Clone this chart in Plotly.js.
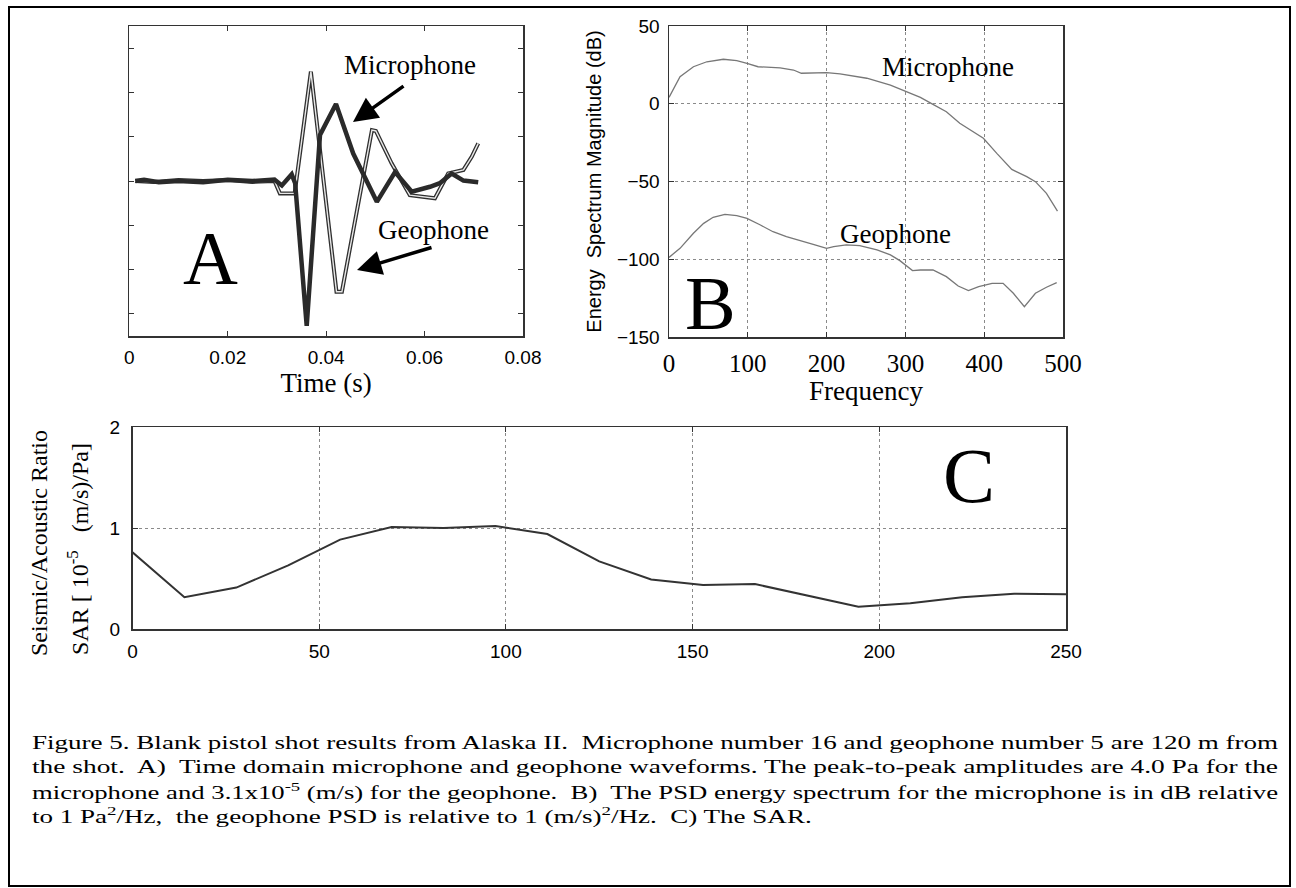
<!DOCTYPE html>
<html><head><meta charset="utf-8">
<script src="https://cdn.plot.ly/plotly-3.0.1.min.js"></script>
<style>html,body{margin:0;padding:0;background:#fff;} #chart{width:1296px;height:888px;}</style>
</head><body><div id="chart"></div>
<script>
// ---------- Panel A: time-domain waveforms ----------
const micTime = [0.0012, 0.003, 0.006, 0.010, 0.015, 0.020, 0.025, 0.0295, 0.031, 0.033, 0.0337, 0.03605, 0.03875, 0.0420, 0.0455, 0.0503, 0.0540, 0.0574, 0.0611, 0.0631, 0.0655, 0.0679, 0.0709];
const micAmp  = [0.0, 0.03, -0.03, 0.0, -0.03, 0.03, 0.0, 0.03, -0.1, 0.15, -0.05, -3.27, 1.04, 1.74, 0.62, -0.47, 0.2, -0.24, -0.13, -0.05, 0.17, 0.01, -0.03];
const geoTime = [0.0012, 0.005, 0.010, 0.015, 0.020, 0.025, 0.0295, 0.0306, 0.0336, 0.0369, 0.0421, 0.0432, 0.0493, 0.0501, 0.0533, 0.0570, 0.0621, 0.0648, 0.0679, 0.0696, 0.0709];
const geoAmp  = [0.0, -0.02, 0.02, 0.0, 0.02, -0.02, 0.0, -0.28, -0.28, 2.47, -2.5, -2.5, 1.15, 1.13, 0.4, -0.32, -0.39, 0.17, 0.25, 0.55, 0.85];

// ---------- Panel B: energy spectra (dB) ----------
const micFreq = [0, 14, 31, 48, 69, 86, 99, 113, 141, 158, 168, 200, 217, 251, 281, 300, 319, 335, 352, 369, 386, 399, 416, 435, 454, 465, 479, 493];
const micSpec = [4.1, 17.4, 23.8, 27, 28.6, 27.7, 26, 23.8, 23.1, 21.7, 19.6, 20, 19.2, 16.4, 12, 8.2, 4.1, -0.4, -5.1, -12.6, -18, -22.2, -31.9, -42.2, -46.9, -50.1, -57.6, -69];
const geoFreq = [0, 14, 31, 44, 56, 71, 86, 99, 116, 132, 149, 168, 183, 200, 209, 225, 242, 264, 281, 293, 309, 319, 335, 352, 367, 380, 393, 410, 424, 437, 451, 465, 479, 492];
const geoSpec = [-98.8, -93, -83.3, -76.9, -73, -71.1, -72, -73.7, -78, -82.3, -85.5, -88, -90.4, -93, -91.9, -90.8, -91.3, -94, -97.2, -100.9, -107.3, -106.9, -106.9, -111.2, -117.2, -120.2, -117.6, -115.5, -115.5, -121.9, -130.5, -121.9, -118, -115];

// ---------- Panel C: seismic/acoustic ratio ----------
const sarFreq = [0, 13.9, 27.8, 41.7, 55.6, 69.4, 83.3, 97.2, 111.1, 125, 138.9, 152.8, 166.7, 180.6, 194.4, 208.3, 222.2, 236.1, 250];
const sarVal  = [0.76, 0.315, 0.41, 0.63, 0.885, 1.01, 1.0, 1.02, 0.94, 0.67, 0.49, 0.435, 0.445, 0.335, 0.22, 0.255, 0.315, 0.35, 0.345];

// ---------- Text ----------
const captionLines = [
  "Figure 5. Blank pistol shot results from Alaska II.  Microphone number 16 and geophone number 5 are 120 m from",
  "the shot.  A)  Time domain microphone and geophone waveforms. The peak-to-peak amplitudes are 4.0 Pa for the",
  "microphone and 3.1x10<sup>-5</sup> (m/s) for the geophone.  B)  The PSD energy spectrum for the microphone is in dB relative",
  "to 1 Pa<sup>2</sup>/Hz,  the geophone PSD is relative to 1 (m/s)<sup>2</sup>/Hz.  C) The SAR."
];

const W = 1296, H = 888;
const px = x => x / W, py = y => 1 - y / H;
const SERIF = 'Liberation Serif, Times New Roman, serif';
const SANS = 'Liberation Sans, Arial, sans-serif';

const data = [
  {x: geoTime, y: geoAmp, xaxis: 'x', yaxis: 'y', mode: 'lines', line: {color: '#303030', width: 4}, hoverinfo: 'skip'},
  {x: geoTime, y: geoAmp, xaxis: 'x', yaxis: 'y', mode: 'lines', line: {color: '#e8e8e8', width: 1.4}, hoverinfo: 'skip'},
  {x: micTime, y: micAmp, xaxis: 'x', yaxis: 'y', mode: 'lines', line: {color: '#2a2a2a', width: 4.5}, hoverinfo: 'skip'},
  {x: micFreq, y: micSpec, xaxis: 'x2', yaxis: 'y2', mode: 'lines', line: {color: '#777', width: 1.3}, hoverinfo: 'skip'},
  {x: geoFreq, y: geoSpec, xaxis: 'x2', yaxis: 'y2', mode: 'lines', line: {color: '#777', width: 1.3}, hoverinfo: 'skip'},
  {x: sarFreq, y: sarVal, xaxis: 'x3', yaxis: 'y3', mode: 'lines', line: {color: '#333', width: 2}, hoverinfo: 'skip'}
];

const axBase = {
  showline: true, linecolor: '#333', linewidth: 1.5, mirror: 'ticks',
  ticks: 'inside', ticklen: 5, tickcolor: '#333', zeroline: false, automargin: false,
  fixedrange: true
};
const grid = {showgrid: true, gridcolor: '#8a8a8a', griddash: 'dot', gridwidth: 1};

const annotations = [];
function txt(x, y, text, size, family, extra) {
  annotations.push(Object.assign({xref: 'paper', yref: 'paper', x: px(x), y: py(y), text: text,
    showarrow: false, font: {family: family || SERIF, size: size, color: '#000'}, xanchor: 'center', yanchor: 'middle'}, extra || {}));
}
txt(410, 65, 'Microphone', 27);
txt(433, 230, 'Geophone', 27);
txt(948, 67, 'Microphone', 27);
txt(895, 234, 'Geophone', 27);
txt(210, 258, 'A', 76);
txt(710, 303, 'B', 76);
txt(969, 475, 'C', 78);
txt(39, 543, 'Seismic/Acoustic Ratio', 24, SERIF, {textangle: -90});
txt(78, 549, 'SAR [ 10<sup>-5</sup>   (m/s)/Pa]', 24, SERIF, {textangle: -90});
// arrows
annotations.push({xref: 'paper', yref: 'paper', x: px(353), y: py(122), ax: 52, ay: -37, text: '',
  showarrow: true, arrowhead: 2, arrowsize: 1.4, arrowwidth: 3.5, arrowcolor: '#000', standoff: 0});
annotations.push({xref: 'paper', yref: 'paper', x: px(357), y: py(270), ax: 76, ay: -23, text: '',
  showarrow: true, arrowhead: 2, arrowsize: 1.4, arrowwidth: 3.5, arrowcolor: '#000', standoff: 0});
// caption
const captionIdx = [];
const capY = [742, 766.5, 791, 815.5];
captionLines.forEach((line, i) => {
  captionIdx.push(annotations.length);
  txt(30, capY[i], line, 19, SERIF, {xanchor: 'left', align: 'left'});
});

const layout = {
  width: W, height: H, margin: {l: 0, r: 0, t: 0, b: 0},
  paper_bgcolor: '#fff', plot_bgcolor: '#fff', showlegend: false,
  xaxis: Object.assign({}, axBase, {domain: [px(129.3), px(523)], range: [0, 0.08], tick0: 0, dtick: 0.02,
    showgrid: false, anchor: 'y', tickfont: {family: SANS, size: 19, color: '#000'}, ticklabelstandoff: 4,
    title: {text: 'Time (s)', font: {family: SERIF, size: 27, color: '#000'}, standoff: 0}}),
  yaxis: Object.assign({}, axBase, {domain: [py(336), py(26)], range: [-3.5, 3.5], tick0: 0, dtick: 1,
    showgrid: false, anchor: 'x', showticklabels: false}),
  xaxis2: Object.assign({}, axBase, grid, {domain: [px(669), px(1063)], range: [0, 500], tick0: 0, dtick: 100,
    anchor: 'y2', tickfont: {family: SERIF, size: 25, color: '#000'}, ticklabelstandoff: 3,
    title: {text: 'Frequency', font: {family: SERIF, size: 27, color: '#000'}, standoff: 0}}),
  yaxis2: Object.assign({}, axBase, grid, {domain: [py(337), py(26)], range: [-150, 50], tick0: 0, dtick: 50,
    anchor: 'x2', tickfont: {family: SANS, size: 19, color: '#000'}, ticklabelstandoff: 4,
    title: {text: 'Energy  Spectrum Magnitude (dB)', font: {family: SANS, size: 20, color: '#000'}, standoff: 10}}),
  xaxis3: Object.assign({}, axBase, grid, {domain: [px(132.5), px(1066)], range: [0, 250], tick0: 0, dtick: 50,
    anchor: 'y3', tickfont: {family: SANS, size: 19, color: '#000'}, ticklabelstandoff: 5}),
  yaxis3: Object.assign({}, axBase, grid, {domain: [py(629), py(427)], range: [0, 2], tick0: 0, dtick: 1,
    anchor: 'x3', tickfont: {family: SANS, size: 19, color: '#000'}, ticklabelstandoff: 7}),
  shapes: [{type: 'rect', xref: 'paper', yref: 'paper', x0: px(9), x1: px(1290), y0: py(886), y1: py(7),
    line: {color: '#000', width: 2}, fillcolor: 'rgba(0,0,0,0)'}],
  annotations: annotations
};

Plotly.newPlot('chart', data, layout, {displayModeBar: false, staticPlot: true}).then(gd => {
  // justify caption lines like the original (full-width lines 1-3)
  const target = 1276 - 30;
  const factors = [];
  captionIdx.forEach((idx, k) => {
    const g = gd.querySelector('g.annotation[data-index="' + idx + '"]');
    if (!g) return;
    const t = g.querySelector('text.annotation-text');
    if (!t) return;
    const nat = t.getComputedTextLength();
    let L;
    if (k < 3) { L = target; factors.push(target / nat); }
    else { const f = factors.length ? factors.reduce((a, b) => a + b, 0) / factors.length : 1; L = nat * f; }
    t.setAttribute('textLength', L.toFixed(1));
    t.setAttribute('lengthAdjust', 'spacingAndGlyphs');
  });
});
</script>
</body></html>
